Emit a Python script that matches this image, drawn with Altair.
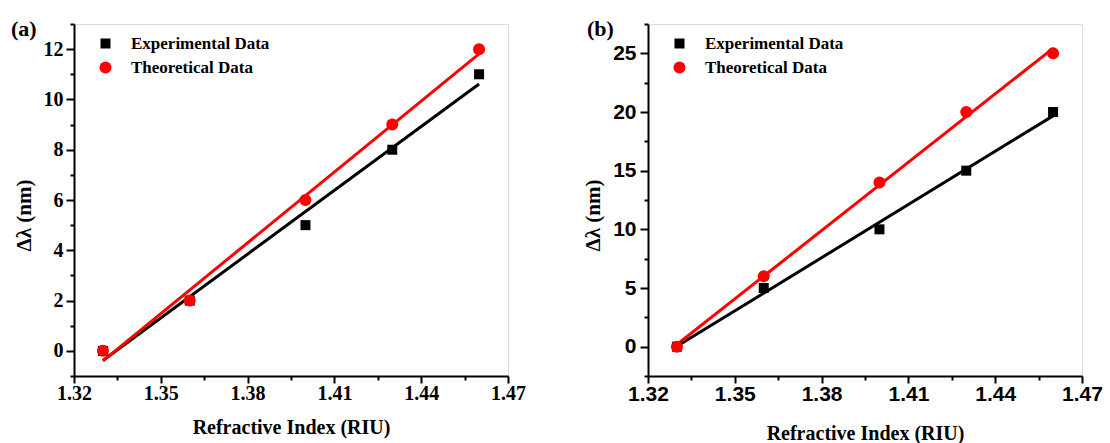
import altair as alt
import pandas as pd

# ---- data ----
ri = [1.33, 1.36, 1.40, 1.43, 1.46]
exp_a = [0, 2, 5, 8, 11]
theo_a = [0, 2, 6, 9, 12]
exp_b = [0, 5, 10, 15, 20]
theo_b = [0, 6, 14, 20, 25]
series_names = ["Experimental Data", "Theoretical Data"]
series_colors = ["#000000", "#ff0000"]
series_shapes = ["square", "circle"]
series_sizes = [100, 144]

x_ticks = [1.32, 1.335, 1.35, 1.365, 1.38, 1.395, 1.41, 1.425, 1.44, 1.455, 1.47]
y_ticks_a = list(range(-1, 14))
y_ticks_b = [-2.5, 0, 2.5, 5, 7.5, 10, 12.5, 15, 17.5, 20, 22.5, 25, 27.5]

SERIF = "Liberation Serif"
SANS = "Liberation Sans"


def make_df(exp, theo):
    rows = []
    for x, y in zip(ri, exp):
        rows.append({"ri": x, "dl": y, "series": series_names[0]})
    for x, y in zip(ri, theo):
        rows.append({"ri": x, "dl": y, "series": series_names[1]})
    return pd.DataFrame(rows)


def panel(exp, theo, y_domain, y_ticks, major_test, label_font, label_size,
          label_text, label_dx, title_pad_x, title_pad_y, label_pad_y):
    df = make_df(exp, theo)
    base = alt.Chart(df)

    x_axis = alt.Axis(
        values=x_ticks,
        format=".2f",
        labelExpr="abs(datum.value*100 - round(datum.value*100)) > 0.01 ? '' : datum.label",
        tickSize={"condition": {"test": "abs(datum.value*100 - round(datum.value*100)) > 0.01", "value": 4}, "value": 7},
        title="Refractive Index (RIU)",
        titleFont=SERIF, titleFontWeight="bold", titleFontSize=20, titlePadding=title_pad_x,
        labelFont=label_font, labelFontWeight="bold", labelFontSize=label_size,
        labelPadding=0, labelColor="black", titleColor="black",
        domainColor="black", domainWidth=2, tickColor="black", tickWidth=2,
        grid=False, labelFlush=False, labelOverlap=False,
    )
    y_axis = alt.Axis(
        values=y_ticks,
        format="d",
        labelExpr=f"({major_test}) ? datum.label : ''",
        tickSize={"condition": {"test": f"!({major_test})", "value": 4}, "value": 8},
        title="Δλ (nm)",
        titleFont=SERIF, titleFontWeight="bold", titleFontSize=21, titlePadding=title_pad_y,
        titleY=191,
        labelFont=label_font, labelFontWeight="bold", labelFontSize=label_size,
        labelPadding=label_pad_y, labelColor="black", titleColor="black",
        domainColor="black", domainWidth=2, tickColor="black", tickWidth=2,
        grid=False, labelFlush=False, labelOverlap=False,
    )
    x_enc = alt.X("ri:Q", scale=alt.Scale(domain=[1.32, 1.47], nice=False, zero=False), axis=x_axis)
    y_enc = alt.Y("dl:Q", scale=alt.Scale(domain=y_domain, nice=False, zero=False), axis=y_axis)

    lines = []
    for name, col in zip(series_names, series_colors):
        lines.append(
            base.transform_filter(alt.datum.series == name)
            .transform_regression("ri", "dl")
            .mark_line(color=col, strokeWidth=3, clip=True)
            .encode(x=x_enc, y=y_enc)
        )

    leg = dict(
        orient="none", legendX=23, legendY=11, title=None, padding=0,
        labelFont=SERIF, labelFontWeight="bold", labelFontSize=17, labelColor="black",
        labelOffset=17, rowPadding=6, symbolStrokeWidth=0, symbolOpacity=1,
    )
    points = base.mark_point(filled=True, opacity=1, strokeWidth=0).encode(
        x=x_enc,
        y=y_enc,
        color=alt.Color("series:N", scale=alt.Scale(domain=series_names, range=series_colors), legend=alt.Legend(**leg)),
        shape=alt.Shape("series:N", scale=alt.Scale(domain=series_names, range=series_shapes), legend=alt.Legend(**leg)),
        size=alt.Size("series:N", scale=alt.Scale(domain=series_names, range=series_sizes), legend=alt.Legend(**leg)),
    )

    tag = alt.Chart(pd.DataFrame({"t": [label_text]})).mark_text(
        align="left", baseline="alphabetic", font=SERIF, fontWeight="bold", fontSize=22, color="black"
    ).encode(x=alt.value(label_dx), y=alt.value(12), text="t:N")

    return alt.layer(*lines, points, tag).properties(width=434, height=352)


pa = panel(exp_a, theo_a, [-1, 13], y_ticks_a, "datum.value % 2 == 0", SERIF, 20, "(a)", -63, 14, 9, 3)
pb = panel(exp_b, theo_b, [-2.5, 27.5], y_ticks_b, "datum.value % 5 == 0", SANS, 21, "(b)", -61, 19, 9, 4)

chart = (
    alt.hconcat(pa, pb, spacing=56)
    .resolve_scale(color="independent", shape="independent", size="independent")
    .resolve_legend(color="independent", shape="independent", size="independent")
    .properties(padding={"left": 10, "top": 12, "right": 0, "bottom": 0})
    .configure_view(stroke=None)
    .configure(background="white")
)

chart.save("out.html", embed_options={"renderer": "svg", "actions": False})
